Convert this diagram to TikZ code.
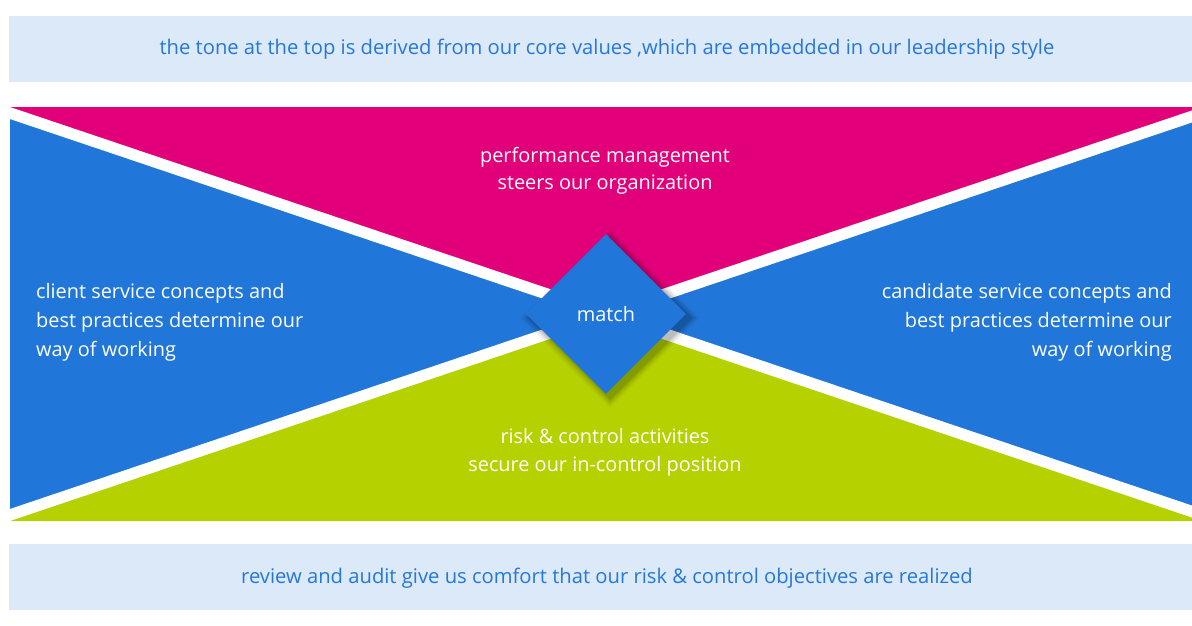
\documentclass[tikz,border=0pt]{standalone}
\usepackage{fontspec}
\setmainfont{Open Sans}
\usetikzlibrary{shapes.geometric}
\definecolor{cblue}{RGB}{33,118,217}
\definecolor{cpink}{RGB}{226,0,122}
\definecolor{cgreen}{RGB}{182,209,0}
\definecolor{cpale}{RGB}{220,233,248}
\definecolor{ctext}{RGB}{38,120,216}
\tikzset{
  band/.style={fill=cpale, draw=none},
  bandtext/.style={text=ctext, font=\fontsize{20.2}{24}\selectfont, inner sep=0pt},
  wtext/.style={text=white, font=\fontsize{19.9}{29}\selectfont, inner sep=0pt},
  ctrtext/.style={text=white, font=\fontsize{19.9}{27.5}\selectfont, inner sep=0pt},
  gap/.style={draw=white, line width=11.4pt},
}
\begin{document}
\begin{tikzpicture}[x=1pt,y=-1pt]
\useasboundingbox (0,0) rectangle (1192,626);
% top and bottom bands
\fill[band] (9,16) rectangle (1192,82);
\fill[band] (9,544) rectangle (1192,610);
\node[bandtext] (top) at (607,49) {the tone at the top is derived from our core values ,which are embedded in our leadership style};
\node[bandtext] (bottom) at (607,578) {review and audit give us comfort that our risk \& control objectives are realized};
% central X
\begin{scope}
\clip (10,107) rectangle (1192,521);
\fill[cblue] (10,107) rectangle (1192,521);
\fill[cpink] (10,107) -- (1192,107) -- (1192,116.4) -- (606,314) -- (10,113) -- cycle;
\fill[cgreen] (10,521) -- (10,515) -- (606,314) -- (1192,511.6) -- (1192,521) -- cycle;
\coordinate (d1a) at (-50,92.8);
\coordinate (d1b) at (1250,531.1);
\coordinate (d2a) at (-50,535.2);
\coordinate (d2b) at (1250,96.9);
\draw[gap] (d1a) -- (d1b);
\draw[gap] (d2a) -- (d2b);
\end{scope}
% shadow of diamond
\foreach \s/\o in {180/0.03,176/0.04,172/0.05,168/0.07,164/0.09}{
  \fill[black, opacity=\o] (610,{318-\s/2}) -- ({610+\s/2},318) -- (610,{318+\s/2}) -- ({610-\s/2},318) -- cycle;
}
\node[diamond, fill=cblue, minimum width=160pt, minimum height=160pt, inner sep=0pt, text=white, font=\fontsize{19.9}{24}\selectfont] (match) at (606,314) {match};
% texts
\node[ctrtext, align=center] (perf) at (605,171) {performance management\\steers our organization};
\node[ctrtext, align=center] (risk) at (605,452.5) {risk \& control activities\\secure our in-control position};
\node[wtext, align=left, anchor=west] (client) at (36,322) {client service concepts and\\best practices determine our\\way of working};
\node[wtext, align=right, anchor=east] (cand) at (1172,322) {candidate service concepts and\\best practices determine our\\way of working};
\end{tikzpicture}
\end{document}
